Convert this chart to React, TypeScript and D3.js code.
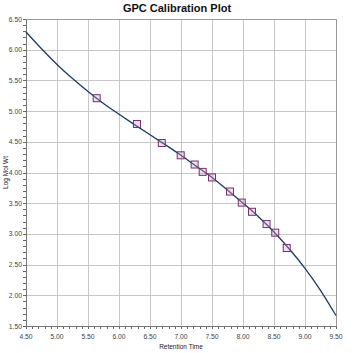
import React, { useEffect, useRef } from 'react';
import * as d3 from 'd3';

// Calibration standards (retention time, log mol wt)
const stdTimes = [5.64, 6.29, 6.69, 6.995, 7.22, 7.35, 7.5, 7.79, 7.98, 8.145, 8.38, 8.52, 8.705];
const stdLogMw = [5.21, 4.79, 4.48, 4.28, 4.13, 4.01, 3.92, 3.69, 3.51, 3.36, 3.16, 3.02, 2.77];

// Fitted calibration curve
const fitTimes = [4.5, 4.75, 5.0, 5.25, 5.5, 5.75, 6.0, 6.25, 6.5, 6.75, 7.0, 7.25, 7.5, 7.75, 8.0, 8.25, 8.5, 8.75, 9.0, 9.25, 9.5];
const fitLogMw = [6.29, 6.015, 5.76, 5.53, 5.32, 5.125, 4.95, 4.78, 4.615, 4.45, 4.28, 4.1, 3.92, 3.715, 3.5, 3.28, 3.03, 2.75, 2.44, 2.08, 1.67];

const xTicks = [4.5, 5.0, 5.5, 6.0, 6.5, 7.0, 7.5, 8.0, 8.5, 9.0, 9.5];
const yTicks = [1.5, 2.0, 2.5, 3.0, 3.5, 4.0, 4.5, 5.0, 5.5, 6.0, 6.5];

const App = () => {
  const ref = useRef<SVGSVGElement>(null);

  useEffect(() => {
    const width = 354;
    const height = 353;
    const margin = { top: 19, right: 18, bottom: 27, left: 26 };
    const innerWidth = width - margin.left - margin.right;
    const innerHeight = height - margin.top - margin.bottom;

    const svg = d3.select(ref.current);
    svg.selectAll('*').remove();

    const g = svg.append('g')
      .attr('transform', `translate(${margin.left},${margin.top})`);

    const x = d3.scaleLinear().domain([4.5, 9.5]).range([0, innerWidth]);
    const y = d3.scaleLinear().domain([1.5, 6.5]).range([innerHeight, 0]);

    // Grid
    g.selectAll('.vgrid')
      .data(xTicks)
      .enter()
      .append('line')
      .attr('x1', d => Math.round(x(d)) + 0.5)
      .attr('x2', d => Math.round(x(d)) + 0.5)
      .attr('y1', 0)
      .attr('y2', innerHeight)
      .attr('stroke', '#c6c6c6');

    g.selectAll('.hgrid')
      .data(yTicks)
      .enter()
      .append('line')
      .attr('y1', d => Math.round(y(d)) + 0.5)
      .attr('y2', d => Math.round(y(d)) + 0.5)
      .attr('x1', 0)
      .attr('x2', innerWidth)
      .attr('stroke', '#c6c6c6');

    // Minor ticks every 0.1
    const minor = d3.range(0, 51).map(i => 1.5 + i * 0.1);
    const minorX = d3.range(0, 51).map(i => 4.5 + i * 0.1);

    g.selectAll('.ymin')
      .data(minor)
      .enter()
      .append('line')
      .attr('y1', d => Math.round(y(d)) + 0.5)
      .attr('y2', d => Math.round(y(d)) + 0.5)
      .attr('x1', 0)
      .attr('x2', -3)
      .attr('stroke', '#666');

    g.selectAll('.xmin')
      .data(minorX)
      .enter()
      .append('line')
      .attr('x1', d => Math.round(x(d)) + 0.5)
      .attr('x2', d => Math.round(x(d)) + 0.5)
      .attr('y1', innerHeight)
      .attr('y2', innerHeight + 3)
      .attr('stroke', '#666');

    // Axes frame
    g.append('line')
      .attr('x1', 0.5).attr('x2', 0.5)
      .attr('y1', 0).attr('y2', innerHeight + 1)
      .attr('stroke', '#777');
    g.append('line')
      .attr('x1', 0).attr('x2', innerWidth + 1)
      .attr('y1', innerHeight + 0.5).attr('y2', innerHeight + 0.5)
      .attr('stroke', '#777');
    g.append('line')
      .attr('x1', 0).attr('x2', innerWidth + 1)
      .attr('y1', 0.5).attr('y2', 0.5)
      .attr('stroke', '#999');
    g.append('line')
      .attr('x1', innerWidth + 0.5).attr('x2', innerWidth + 0.5)
      .attr('y1', 0).attr('y2', innerHeight)
      .attr('stroke', '#999');

    // Tick labels
    g.selectAll('.ylab')
      .data(yTicks)
      .enter()
      .append('text')
      .attr('x', -4)
      .attr('y', d => y(d) + 2.5)
      .attr('text-anchor', 'end')
      .attr('font-family', 'Liberation Sans, Arial, sans-serif')
      .attr('font-size', '6.8px')
      .attr('fill', '#444')
      .text(d => d.toFixed(2));

    g.selectAll('.xlab')
      .data(xTicks)
      .enter()
      .append('text')
      .attr('x', d => x(d))
      .attr('y', innerHeight + 13)
      .attr('text-anchor', 'middle')
      .attr('font-family', 'Liberation Sans, Arial, sans-serif')
      .attr('font-size', '6.8px')
      .attr('fill', '#444')
      .text(d => d.toFixed(2));

    // Calibration curve
    const fit = fitTimes.map((t, i) => [t, fitLogMw[i]] as [number, number]);
    const line = d3.line<[number, number]>()
      .x(d => x(d[0]))
      .y(d => y(d[1]))
      .curve(d3.curveNatural);

    g.append('path')
      .datum(fit)
      .attr('d', line)
      .attr('fill', 'none')
      .attr('stroke', '#163d6a')
      .attr('stroke-width', 1.3);

    // Standards
    const s = 7;
    g.selectAll('.std')
      .data(stdTimes.map((t, i) => [t, stdLogMw[i]]))
      .enter()
      .append('rect')
      .attr('x', d => x(d[0]) - s / 2)
      .attr('y', d => y(d[1]) - s / 2)
      .attr('width', s)
      .attr('height', s)
      .attr('fill', 'rgba(205,160,200,0.35)')
      .attr('stroke', '#7c2d6e')
      .attr('stroke-width', 1);

    // Axis titles
    svg.append('text')
      .attr('x', margin.left + innerWidth / 2)
      .attr('y', height - 4)
      .attr('text-anchor', 'middle')
      .attr('font-family', 'Liberation Sans, Arial, sans-serif')
      .attr('font-size', '6.5px')
      .attr('fill', '#222')
      .text('Retention Time');

    svg.append('text')
      .attr('transform', `translate(8,${margin.top + innerHeight / 2}) rotate(-90)`)
      .attr('text-anchor', 'middle')
      .attr('font-family', 'Liberation Sans, Arial, sans-serif')
      .attr('font-size', '6.5px')
      .attr('fill', '#222')
      .text('Log Mol Wt');

    // Title
    svg.append('text')
      .attr('x', 177)
      .attr('y', 12)
      .attr('text-anchor', 'middle')
      .attr('font-family', 'Liberation Sans, Arial, sans-serif')
      .attr('font-size', '11px')
      .attr('font-weight', 'bold')
      .attr('fill', '#111')
      .text('GPC Calibration Plot');
  }, []);

  return (
    <div style={{ position: 'absolute', left: 0, top: 0, width: 354, height: 353, background: '#fff' }}>
      <svg ref={ref} width={354} height={353} style={{ display: 'block' }} />
    </div>
  );
};

export default App;
